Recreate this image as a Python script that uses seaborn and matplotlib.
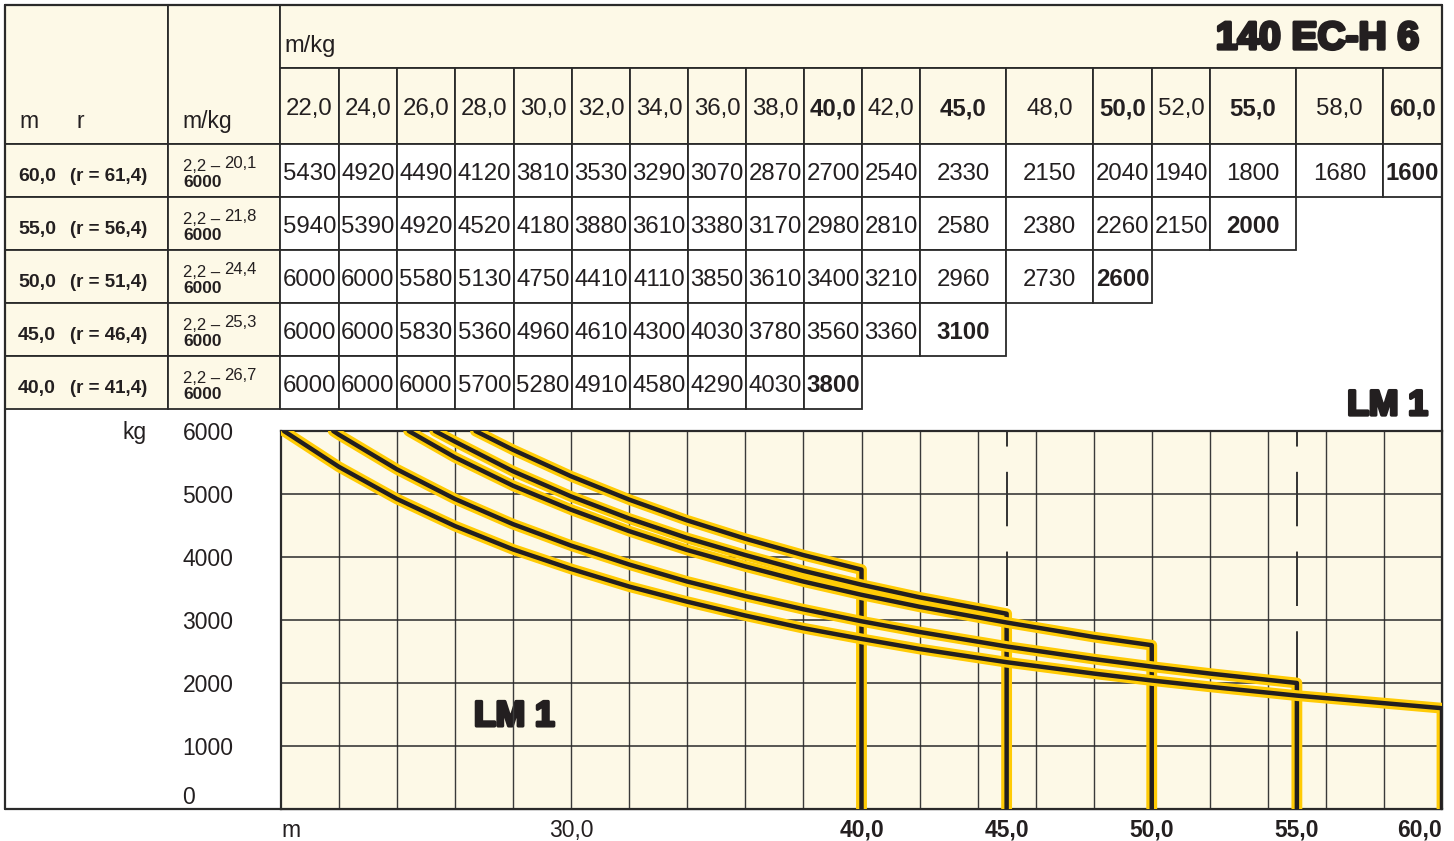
import numpy as np
import pandas as pd
import matplotlib
matplotlib.use("Agg")
import matplotlib.pyplot as plt
import matplotlib.patheffects as pe
from matplotlib.patches import Rectangle
import seaborn as sns

# ---------------- data ----------------
jib_lengths = [60.0, 55.0, 50.0, 45.0, 40.0]
jib_r = [61.4, 56.4, 51.4, 46.4, 41.4]
min_radius = 2.2
max_load_kg = 6000
max_load_reach = [20.1, 21.8, 24.4, 25.3, 26.7]
radii = [22.0, 24.0, 26.0, 28.0, 30.0, 32.0, 34.0, 36.0, 38.0, 40.0, 42.0,
         45.0, 48.0, 50.0, 52.0, 55.0, 58.0, 60.0]
bold_radii = [40.0, 45.0, 50.0, 55.0, 60.0]
loads_60 = [5430, 4920, 4490, 4120, 3810, 3530, 3290, 3070, 2870, 2700, 2540,
            2330, 2150, 2040, 1940, 1800, 1680, 1600]
loads_55 = [5940, 5390, 4920, 4520, 4180, 3880, 3610, 3380, 3170, 2980, 2810,
            2580, 2380, 2260, 2150, 2000]
loads_50 = [6000, 6000, 5580, 5130, 4750, 4410, 4110, 3850, 3610, 3400, 3210,
            2960, 2730, 2600]
loads_45 = [6000, 6000, 5830, 5360, 4960, 4610, 4300, 4030, 3780, 3560, 3360,
            3100]
loads_40 = [6000, 6000, 6000, 5700, 5280, 4910, 4580, 4290, 4030, 3800]
loads = [loads_60, loads_55, loads_50, loads_45, loads_40]
y_ticks = [0, 1000, 2000, 3000, 4000, 5000, 6000]
x_tick_vals = [20.0, 30.0, 40.0, 45.0, 50.0, 55.0, 60.0]
x_tick_labels = ["m", "30,0", "40,0", "45,0", "50,0", "55,0", "60,0"]
x_bold_ticks = [40.0, 45.0, 50.0, 55.0, 60.0]
dashed_radii = [45.0, 55.0]
dashed_floor = [3100, 2000]
model_name = "140 EC-H 6"
curve_label = "LM 1"
unit_label = "m/kg"


def de(v):
    return f"{v:.1f}".replace(".", ",")


# ---------------- style ----------------
sns.set_theme(style="white")
plt.rcParams["font.family"] = ["Liberation Sans", "DejaVu Sans"]

INK = "#231F20"
CREAM = "#FDF9E7"
YELLOW = "#FFCB05"
LINE = "#2a2a2a"
heavy = dict(fontweight="bold", color=INK,
             path_effects=[pe.withStroke(linewidth=2.4, foreground=INK)])

W, H = 1454, 841
fig = plt.figure(figsize=(W / 100, H / 100), dpi=100, facecolor="white")

# ---------- table layer in pixel coordinates ----------
ov = fig.add_axes([0, 0, 1, 1], zorder=0)
ov.set_xlim(0, W)
ov.set_ylim(H, 0)
ov.axis("off")

col_edges = [280, 339, 397, 455, 514, 572, 630, 688, 746, 804, 862, 920,
             1006, 1093, 1152, 1210, 1296, 1383, 1442]
row_edges = [144, 197, 250, 303, 356, 409]
L0, L1, L2, R = 5, 168, 280, 1442
T0, T1, T2 = 5, 68, 144
FS = 17.3
lw_tab = 1.3


def cell(x0, y0, x1, y1, fc):
    ov.add_patch(Rectangle((x0, y0), x1 - x0, y1 - y0, facecolor=fc,
                           edgecolor=LINE, lw=lw_tab))


cell(L0, T0, L1, T2, CREAM)
cell(L1, T0, L2, T2, CREAM)
cell(L2, T0, R, T1, CREAM)
for i, r in enumerate(radii):
    x0, x1 = col_edges[i], col_edges[i + 1]
    cell(x0, T1, x1, T2, CREAM)
    ov.text((x0 + x1) / 2, 115, de(r), ha="center", va="baseline",
            fontsize=FS, color=INK,
            fontweight="bold" if r in bold_radii else "normal")

ov.text(284, 52, unit_label, ha="left", va="baseline", fontsize=17, color=INK)
ov.text(1419, 49, model_name, ha="right", va="baseline", fontsize=28, **heavy)
ov.text(19, 128, "m", ha="left", va="baseline", fontsize=16.5, color=INK)
ov.text(76, 128, "r", ha="left", va="baseline", fontsize=16.5, color=INK)
ov.text(182, 128, unit_label, ha="left", va="baseline", fontsize=16.5, color=INK)

for j, (jl, rr, reach, row) in enumerate(zip(jib_lengths, jib_r, max_load_reach, loads)):
    y0, y1 = row_edges[j], row_edges[j + 1]
    cell(L0, y0, L1, y1, CREAM)
    cell(L1, y0, L2, y1, CREAM)
    ov.text(18, y0 + 37, de(jl), ha="left", va="baseline", fontsize=14,
            fontweight="bold", color=INK)
    ov.text(70, y0 + 37, f"(r = {de(rr)})", ha="left", va="baseline",
            fontsize=13.5, fontweight="bold", color=INK)
    ov.text(183, y0 + 27, f"{de(min_radius)} –", ha="left", va="baseline",
            fontsize=12, color=INK)
    ov.text(224, y0 + 24, de(reach), ha="left", va="baseline",
            fontsize=12, color=INK)
    ov.text(183, y0 + 43, f"{max_load_kg}", ha="left", va="baseline",
            fontsize=12.5, fontweight="bold", color=INK)
    for i, v in enumerate(row):
        x0, x1 = col_edges[i], col_edges[i + 1]
        cell(x0, y0, x1, y1, "white")
        ov.text((x0 + x1) / 2, y0 + 36, f"{v}", ha="center", va="baseline",
                fontsize=FS, color=INK,
                fontweight="bold" if i == len(row) - 1 else "normal")

# outer frame lines
ov.plot([L0, L0], [T0, 809], color=LINE, lw=1.6)
ov.plot([R, R], [T0, 809], color=LINE, lw=1.6)
ov.plot([L0, R], [T0, T0], color=LINE, lw=1.6)
ov.plot([L0, R], [809, 809], color=LINE, lw=1.6)

ov.text(1428, 415, curve_label, ha="right", va="baseline", fontsize=25.5, **heavy)
ov.text(122, 432, "kg", ha="left", va="center", fontsize=16.5, color=INK)

# ---------- load chart ----------
ax = fig.add_axes([281 / W, 1 - 809 / H, (1442 - 281) / W, (809 - 431) / H], zorder=1)
ax.set_facecolor(CREAM)
ax.set_xlim(20, 60)
ax.set_ylim(0, 6000)

ax.vlines(np.arange(22, 60, 2), 0, 6000, color="#3a3a3a", lw=1.0, zorder=1)
ax.hlines(y_ticks[1:-1], 20, 60, color="#2a2a2a", lw=1.1, zorder=1)
ax.vlines(dashed_radii, [6000] * len(dashed_radii), dashed_floor, color="#333333",
          lw=1.4, linestyles=[(20, (28, 13))], zorder=1)

rows = []
for jl, reach, row in zip(jib_lengths, max_load_reach, loads):
    rows.append({"jib": jl, "x": reach, "y": max_load_kg})
    for r, v in zip(radii, row):
        if r > reach:
            rows.append({"jib": jl, "x": r, "y": v})
    rows.append({"jib": jl, "x": jl, "y": 0})
df = pd.DataFrame(rows)

effects = [pe.Stroke(linewidth=7.8, foreground=YELLOW, joinstyle="round"),
           pe.Normal()]
sns.lineplot(data=df, x="x", y="y", units="jib", estimator=None, sort=False,
             color=INK, lw=3.2, ax=ax, zorder=3, path_effects=effects,
             legend=False)

ax.text(26.65, 1470, curve_label, ha="left", va="center", fontsize=25.5,
        zorder=0.5, **heavy)

ax.set_xlabel("")
ax.set_ylabel("")
ax.set_xticks(x_tick_vals)
ax.set_xticklabels(x_tick_labels)
ax.set_yticks(y_ticks)
ax.set_yticklabels([str(v) for v in y_ticks])
ax.tick_params(axis="both", length=0, labelsize=16.5, colors=INK)
ax.tick_params(axis="x", pad=7)
ax.tick_params(axis="y", pad=71)
for lab, v in zip(ax.get_xticklabels(), x_tick_vals):
    if v in x_bold_ticks:
        lab.set_fontweight("bold")
    if v == x_tick_vals[0]:
        lab.set_ha("left")
    if v == x_tick_vals[-1]:
        lab.set_ha("right")
for lab, v in zip(ax.get_yticklabels(), y_ticks):
    lab.set_ha("left")
    if v == 0:
        lab.set_va("bottom")
for s in ax.spines.values():
    s.set_color(LINE)
    s.set_linewidth(1.6)
    s.set_visible(True)

fig.savefig("out.png", dpi=100, facecolor="white")
